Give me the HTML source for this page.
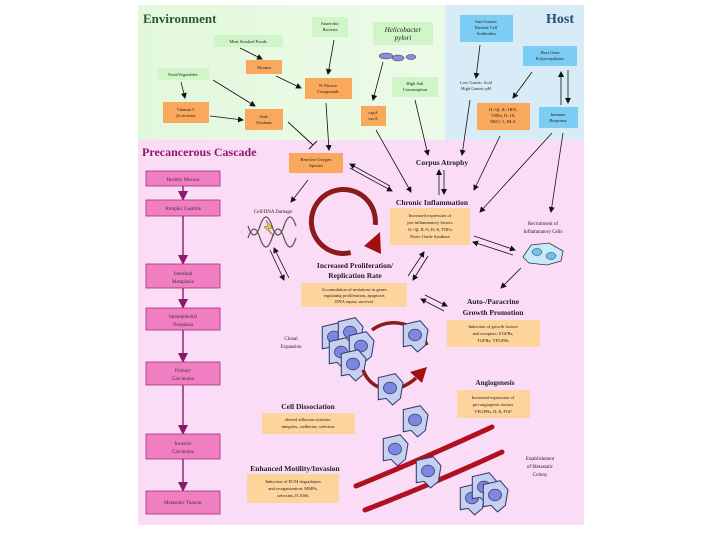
<!DOCTYPE html>
<html><head><meta charset="utf-8"><style>
html,body{margin:0;padding:0;background:#fff;}
svg{display:block;font-family:"Liberation Serif",serif;}
</style></head><body>
<svg width="720" height="540" viewBox="0 0 720 540" xmlns="http://www.w3.org/2000/svg">
<defs>
<marker id="a" markerWidth="6" markerHeight="6" refX="5" refY="3" orient="auto" markerUnits="userSpaceOnUse"><path d="M0,0 L6,3 L0,6 z" fill="#111"/></marker>
<marker id="m" markerWidth="10" markerHeight="10" refX="8" refY="5" orient="auto" markerUnits="userSpaceOnUse"><path d="M0,0 L10,5 L0,10 z" fill="#8b1a6b"/></marker>
<linearGradient id="env" x1="0" x2="1"><stop offset="0" stop-color="#e2f8dc"/><stop offset="1" stop-color="#ecfbe8"/></linearGradient>
<g id="cell"><g transform="scale(1.3)"><path d="M-9,-8 L4,-11 L10,-4 L8,8 L2,13 L-3,8 L-9,9 z" fill="#c8d0f0" stroke="#333a70" stroke-width="0.8"/><ellipse cx="0" cy="0" rx="5" ry="4.5" fill="#7d86e0" stroke="#333a70" stroke-width="0.6"/></g></g>
</defs>
<rect x="138" y="5" width="307" height="135" fill="url(#env)"/>
<rect x="445" y="5" width="139" height="135" fill="#d8ecf8"/>
<rect x="138" y="140" width="446" height="385" fill="#fbdcf6"/>

<g font-weight="bold">
<text x="143" y="23" font-size="13" fill="#2a5a2a">Environment</text>
<text x="546" y="23" font-size="14" fill="#2a4a7a">Host</text>
<text x="142" y="156" font-size="12" fill="#8b1a6b">Precancerous Cascade</text>
</g>

<g font-size="4.5" text-anchor="middle" fill="#222">
<rect x="312" y="17" width="36" height="20" fill="#cff5c8"/><text x="330" y="25">Anaerobic</text><text x="330" y="31">Bacteria</text>
<rect x="373" y="22" width="60" height="23" fill="#cff5c8"/><text x="403" y="32" font-size="7" font-style="italic">Helicobacter</text><text x="403" y="40" font-size="7" font-style="italic">pylori</text>
<rect x="214" y="35" width="69" height="12" fill="#cff5c8"/><text x="248" y="43">Meat Smoked Foods</text>
<rect x="246" y="60" width="36" height="14" fill="#f9a85c"/><text x="264" y="69">Nitrates</text>
<rect x="158" y="68" width="51" height="12" fill="#cff5c8"/><text x="183" y="76">Fruit/Vegetables</text>
<rect x="305" y="78" width="47" height="21" fill="#f9a85c"/><text x="328" y="87">N-Nitroso</text><text x="328" y="93">Compounds</text>
<rect x="392" y="77" width="46" height="20" fill="#cff5c8"/><text x="415" y="85">High Salt</text><text x="415" y="91">Consumption</text>
<rect x="163" y="102" width="46" height="21" fill="#f9a85c"/><text x="186" y="111">Vitamin C</text><text x="186" y="117">β-carotene</text>
<rect x="245" y="109" width="38" height="21" fill="#f9a85c"/><text x="264" y="118">Anti-</text><text x="264" y="124">Oxidants</text>
<rect x="361" y="106" width="25" height="20" fill="#f9a85c"/><text x="373" y="114">cagA</text><text x="373" y="120">vacA</text>
<rect x="460" y="15" width="53" height="27" fill="#7ccdf3"/><text x="486" y="23">Anti-Gastric</text><text x="486" y="29">Parietal Cell</text><text x="486" y="35">Antibodies</text>
<rect x="523" y="46" width="54" height="20" fill="#7ccdf3"/><text x="550" y="54">Host Gene</text><text x="550" y="60">Polymorphisms</text>
<text x="476" y="84">Low Gastric Acid</text><text x="476" y="90">High Gastric pH</text>
<rect x="477" y="103" width="53" height="27" fill="#f9a85c"/><text x="503" y="111">IL-1β, IL-1RN,</text><text x="503" y="117">TNFα, IL-10,</text><text x="503" y="123">MUC-1, HLA</text>
<rect x="539" y="107" width="39" height="21" fill="#7ccdf3"/><text x="558" y="116">Immune</text><text x="558" y="122">Response</text>
</g>
<g fill="#8a8ae0" stroke="#333" stroke-width="0.5"><ellipse cx="386" cy="56" rx="7" ry="3"/><ellipse cx="398" cy="58" rx="6" ry="3"/><ellipse cx="411" cy="57" rx="5" ry="2.5"/></g>

<g stroke="#111" stroke-width="0.8" fill="none" marker-end="url(#a)">
<path d="M240,48 L262,59"/><path d="M276,76 L301,88"/><path d="M334,40 L328,74"/>
<path d="M181,82 L185,98"/><path d="M213,80 L255,106"/><path d="M210,116 L243,120"/>
<path d="M326,103 L329,150"/><path d="M383,62 L373,100"/><path d="M376,130 L411,192"/>
<path d="M415,100 L428,155"/><path d="M480,45 L476,78"/><path d="M470,100 L462,155"/>
<path d="M532,72 L513,98"/><path d="M561,105 L561,72"/><path d="M568,70 L568,103"/>
<path d="M500,136 L474,190"/><path d="M552,133 L480,212"/><path d="M563,133 L551,212"/>
<path d="M439,195 L439,170"/><path d="M444,170 L444,194"/>
<path d="M350,168 L392,191"/><path d="M390,186 L350,164"/>
<path d="M308,180 L291,202"/><path d="M270,250 L284,280"/><path d="M289,278 L274,248"/>
<path d="M408,276 L424,252"/><path d="M428,256 L413,280"/>
<path d="M474,236 L515,250"/><path d="M513,255 L473,242"/>
<path d="M521,268 L501,288"/>
<path d="M425,295 L447,306"/><path d="M444,311 L421,299"/>
</g>
<path d="M288,122 L313,145" stroke="#111" stroke-width="0.9"/><path d="M309,149 L317,141" stroke="#111" stroke-width="1"/>

<g stroke="#8b1a6b" stroke-width="1.4" fill="none" marker-end="url(#m)">
<path d="M183,186 L183,199"/><path d="M183,216 L183,263"/><path d="M183,288 L183,307"/>
<path d="M183,330 L183,361"/><path d="M183,385 L183,433"/><path d="M183,459 L183,490"/>
</g>
<g fill="#f27ec2" stroke="#a0307a" stroke-width="0.8">
<rect x="146" y="171" width="74" height="15"/><rect x="146" y="200" width="74" height="16"/>
<rect x="146" y="264" width="74" height="24"/><rect x="146" y="308" width="74" height="22"/>
<rect x="146" y="362" width="74" height="23"/><rect x="146" y="434" width="74" height="25"/>
<rect x="146" y="491" width="74" height="23"/>
</g>
<g font-size="5" text-anchor="middle" fill="#333">
<text x="183" y="181">Healthy Mucosa</text><text x="183" y="210">Atrophic Gastritis</text>
<text x="183" y="275">Intestinal</text><text x="183" y="283">Metaplasia</text>
<text x="183" y="318">Intraepithelial</text><text x="183" y="326">Neoplasia</text>
<text x="183" y="372">Primary</text><text x="183" y="380">Carcinoma</text>
<text x="183" y="445">Invasive</text><text x="183" y="453">Carcinoma</text>
<text x="183" y="504">Metastatic Tumour</text>
</g>

<g text-anchor="middle" fill="#222">
<rect x="289" y="153" width="54" height="20" fill="#f9a85c"/>
<text x="316" y="161" font-size="4.5">Reactive Oxygen</text><text x="316" y="167" font-size="4.5">Species</text>
<text x="442" y="165" font-size="7.5" font-weight="bold">Corpus Atrophy</text>
<text x="432" y="205" font-size="7.5" font-weight="bold">Chronic Inflammation</text>
<rect x="390" y="208" width="80" height="37" fill="#fcd49c"/>
<g font-size="4.5"><text x="430" y="217">Increased expression of</text><text x="430" y="224">pro-inflammatory factors</text><text x="430" y="231">IL-1β, IL-6, IL-8, TNFα</text><text x="430" y="238">Nitric Oxide Synthase</text></g>
<text x="273" y="213" font-size="5">Cell/DNA Damage</text>
<text x="543" y="225" font-size="5">Recruitment of</text><text x="543" y="233" font-size="5">Inflammatory Cells</text>
<text x="355" y="268" font-size="7.5" font-weight="bold">Increased Proliferation/</text>
<text x="355" y="278" font-size="7.5" font-weight="bold">Replication Rate</text>
<rect x="301" y="283" width="106" height="24" fill="#fcd49c"/>
<g font-size="4.5"><text x="354" y="291">Accumulation of mutations in genes</text><text x="354" y="297">regulating proliferation, apoptosis</text><text x="354" y="303">DNA repair, survival</text></g>
<text x="493" y="304" font-size="7.5" font-weight="bold">Auto-/Paracrine</text>
<text x="493" y="315" font-size="7.5" font-weight="bold">Growth Promotion</text>
<rect x="447" y="320" width="93" height="27" fill="#fcd49c"/>
<g font-size="4.5"><text x="493" y="328">Induction of growth factors</text><text x="493" y="335">and receptors: EGFRs,</text><text x="493" y="342">TGFRs, VEGFRs</text></g>
<text x="291" y="340" font-size="5">Clonal</text><text x="291" y="348" font-size="5">Expansion</text>
<text x="495" y="385" font-size="7" font-weight="bold">Angiogenesis</text>
<rect x="457" y="390" width="73" height="28" fill="#fcd49c"/>
<g font-size="4.5"><text x="493" y="399">Increased expression of</text><text x="493" y="406">pro-angiogenic factors</text><text x="493" y="413">VEGFRs, IL-8, FGF</text></g>
<text x="308" y="409" font-size="7.5" font-weight="bold">Cell Dissociation</text>
<rect x="262" y="413" width="93" height="21" fill="#fcd49c"/>
<g font-size="4.5"><text x="308" y="421">altered adhesion systems:</text><text x="308" y="428">integrins, cadherins, selectins</text></g>
<text x="295" y="471" font-size="7.5" font-weight="bold">Enhanced Motility/Invasion</text>
<rect x="247" y="474" width="92" height="29" fill="#fcd49c"/>
<g font-size="4.5"><text x="293" y="483">Induction of ECM degradation</text><text x="293" y="490">and reorganization: MMPs,</text><text x="293" y="497">selectins, ICAMs</text></g>
<text x="540" y="460" font-size="5">Establishment</text><text x="540" y="468" font-size="5">of Metastatic</text><text x="540" y="476" font-size="5">Colony</text>
</g>

<path d="M372,240 A32,32 0 1 1 373,203" fill="none" stroke="#8b1a1a" stroke-width="5" transform="rotate(40 344 217)"/>
<path d="M364,246 L380,232 L381,254 z" fill="#a01010"/>

<g stroke="#555" stroke-width="1.2" fill="none">
<path d="M248,238 q6,-18 12,0 t12,0 t12,0 t12,0"/><path d="M248,226 q6,18 12,0 t12,0 t12,0 t12,0"/>
</g>
<path d="M266,220 L272,228 L268,229 L274,236 L264,227 L268,226 z" fill="#f0d020" stroke="#333" stroke-width="0.4"/>

<g transform="translate(543,253)"><path d="M-20,4 L-12,-8 L6,-10 L20,-2 L18,8 L4,12 L-14,10 z" fill="#c8eaf8" stroke="#334" stroke-width="0.8"/><ellipse cx="-6" cy="-1" rx="5" ry="3.5" fill="#6ec0ea" stroke="#334" stroke-width="0.5"/><ellipse cx="8" cy="3" rx="5" ry="3.5" fill="#6ec0ea" stroke="#334" stroke-width="0.5"/></g>

<use href="#cell" x="334" y="337"/><use href="#cell" x="350" y="332"/><use href="#cell" x="341" y="352"/><use href="#cell" x="361" y="346"/><use href="#cell" x="353" y="364"/>
<path d="M372,330 A36,36 0 0 1 427,345" fill="none" stroke="#8b1a1a" stroke-width="3.5"/>
<path d="M363,370 Q370,388 390,390 Q405,388 416,378" fill="none" stroke="#8b1a1a" stroke-width="3.5"/>
<path d="M410,372 L427,367 L422,383 z" fill="#a01010"/>
<use href="#cell" x="415" y="335"/><use href="#cell" x="390" y="388"/><use href="#cell" x="415" y="420"/>

<g stroke="#b01020" stroke-width="5" stroke-linecap="round" fill="none" stroke-dasharray="9 1.5">
<path d="M356,486 Q420,460 492,427"/><path d="M365,510 Q430,485 502,452"/>
</g>
<use href="#cell" x="395" y="449"/><use href="#cell" x="428" y="471"/>
<use href="#cell" x="472" y="498"/><use href="#cell" x="484" y="487"/><use href="#cell" x="495" y="495"/>
</svg>
</body></html>
